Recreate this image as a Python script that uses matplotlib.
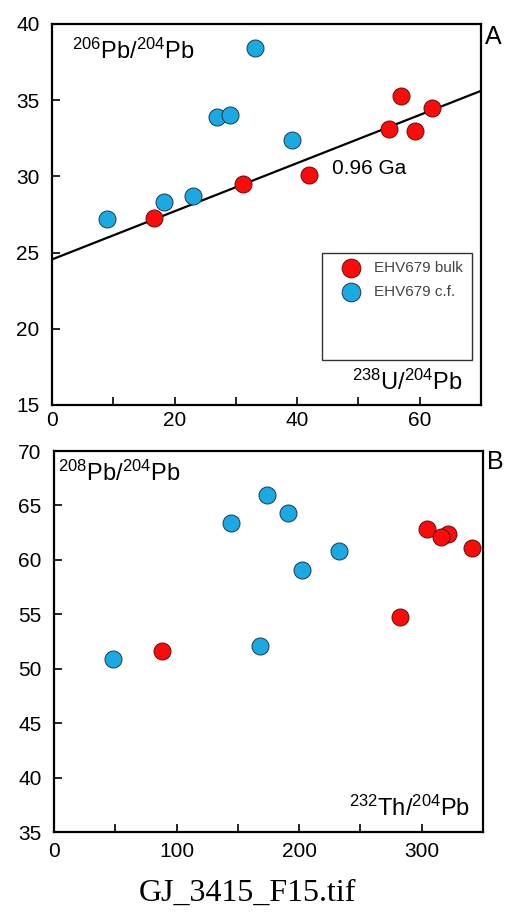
import matplotlib.pyplot as plt
from matplotlib.patches import Rectangle

plt.rcParams["font.family"] = ["Liberation Sans", "DejaVu Sans"]
plt.rcParams["mathtext.fontset"] = "custom"
plt.rcParams["mathtext.rm"] = "Liberation Sans"
plt.rcParams["mathtext.default"] = "regular"

RED = "#ff0a0a"
BLUE = "#1aa9e2"

# panel A: 238U/204Pb vs 206Pb/204Pb
a_bulk_x = [16.6, 31.1, 41.9, 55.0, 56.9, 59.2, 62.0]
a_bulk_y = [27.3, 29.5, 30.1, 33.1, 35.3, 33.0, 34.5]
a_cf_x = [9.0, 18.2, 23.0, 26.9, 29.0, 33.1, 39.2]
a_cf_y = [27.2, 28.3, 28.7, 33.9, 34.0, 38.4, 32.4]

# isochron (0.96 Ga)
iso_x = [0, 70]
iso_intercept = 24.55
iso_slope = 0.158

# panel B: 232Th/204Pb vs 208Pb/204Pb
b_bulk_x = [88.0, 282.1, 304.6, 321.7, 315.5, 340.7]
b_bulk_y = [51.6, 54.75, 62.85, 62.4, 62.1, 61.1]
b_cf_x = [48.1, 144.4, 168.3, 173.5, 190.6, 202.0, 232.7]
b_cf_y = [50.9, 63.4, 52.1, 66.0, 64.3, 59.1, 60.8]

fig = plt.figure(figsize=(5.07, 9.15), dpi=100)
axA = fig.add_axes([0.1026, 0.5574, 0.846, 0.4164])
axB = fig.add_axes([0.1065, 0.0907, 0.846, 0.4164])

ms = 150
for ax in (axA, axB):
    for s in ax.spines.values():
        s.set_linewidth(1.6)
    ax.tick_params(direction="in", length=6, width=1.2, labelsize=15,
                   top=False, right=False)

# --- panel A
iso_y = [iso_intercept + iso_slope * x for x in iso_x]
axA.plot(iso_x, iso_y, color="black", lw=1.6, zorder=2)
axA.scatter(a_bulk_x, a_bulk_y, s=ms, c=RED, edgecolors="#5a1010",
            linewidths=0.7, zorder=3, label="EHV679 bulk")
axA.scatter(a_cf_x, a_cf_y, s=ms, c=BLUE, edgecolors="#1c3a4a",
            linewidths=0.7, zorder=3, label="EHV679 c.f.")
axA.set_xlim(0, 70)
axA.set_ylim(15, 40)
axA.set_xticks(range(0, 71, 10))
axA.set_xticklabels(["0", "", "20", "", "40", "", "60", ""])
axA.set_yticks(range(15, 41, 5))
axA.tick_params(axis="x", pad=4)
axA.tick_params(axis="y", pad=9)
axA.text(45.7, 30.5, "0.96 Ga", fontsize=15, va="center", ha="left")
axA.text(0.047, 0.927, r"$^{206}$Pb/$^{204}$Pb", transform=axA.transAxes,
         fontsize=17, va="center", ha="left")
axA.text(0.958, 0.06, r"$^{238}$U/$^{204}$Pb", transform=axA.transAxes,
         fontsize=17, va="center", ha="right")
axA.text(1.009, 0.966, "A", transform=axA.transAxes, fontsize=18,
         va="center", ha="left")

axA.add_patch(Rectangle((0.63, 0.118), 0.35, 0.282, transform=axA.transAxes,
                        fill=False, edgecolor="#333333", lw=1.0, zorder=4))
leg = axA.legend(loc="upper left", bbox_to_anchor=(0.662, 0.39),
                 frameon=False, fontsize=11, borderaxespad=0, borderpad=0.3,
                 handlelength=1.4, handletextpad=0.8, labelspacing=0.65,
                 markerscale=1.1)
for t in leg.get_texts():
    t.set_color("#444444")

# --- panel B
axB.scatter(b_bulk_x, b_bulk_y, s=ms, c=RED, edgecolors="#5a1010",
            linewidths=0.7, zorder=3)
axB.scatter(b_cf_x, b_cf_y, s=ms, c=BLUE, edgecolors="#1c3a4a",
            linewidths=0.7, zorder=3)
axB.set_xlim(0, 350)
axB.set_ylim(35, 70)
axB.set_xticks(range(0, 351, 50))
axB.set_xticklabels(["0", "", "100", "", "200", "", "300", ""])
axB.set_yticks(range(35, 71, 5))
axB.tick_params(axis="x", pad=7)
axB.tick_params(axis="y", pad=9)
axB.text(0.01, 0.942, r"$^{208}$Pb/$^{204}$Pb", transform=axB.transAxes,
         fontsize=17, va="center", ha="left")
axB.text(0.97, 0.063, r"$^{232}$Th/$^{204}$Pb", transform=axB.transAxes,
         fontsize=17, va="center", ha="right")
axB.text(1.009, 0.971, "B", transform=axB.transAxes, fontsize=18,
         va="center", ha="left")

fig.text(0.488, 0.024, "GJ_3415_F15.tif", fontsize=23,
         family=["Liberation Serif", "DejaVu Serif"], ha="center", va="center")

fig.savefig("out.png", dpi=100)
